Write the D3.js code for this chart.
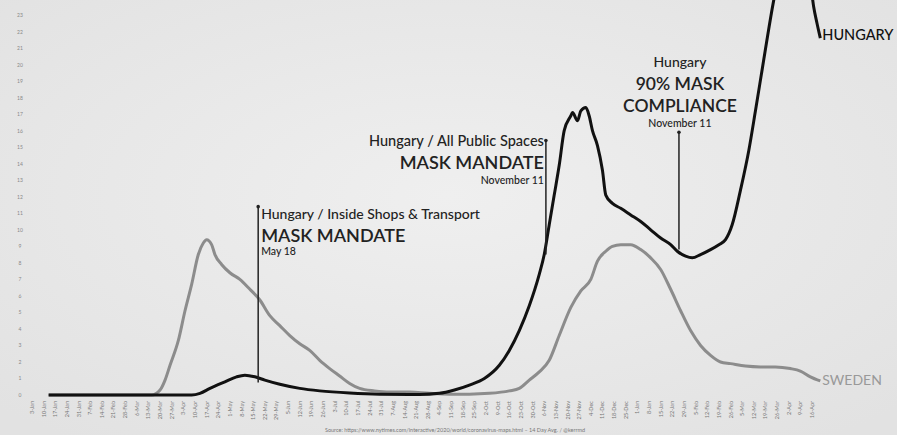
<!DOCTYPE html>
<html>
<head>
<meta charset="utf-8">
<script src="https://cdn.jsdelivr.net/npm/d3@7"></script>
<style>
  html, body { margin: 0; padding: 0; background: #e8e8e8; }
  svg { display: block; font-family: Lato, "Open Sans", sans-serif; }
</style>
</head>
<body>
<div id="chart"></div>
<script>
var width = 897;
var height = 435;

// 14 day avg
var hungary = [
  ["2020-01-13", 0], ["2020-04-08", 0], ["2020-04-13", 0.1], ["2020-04-19", 0.4], ["2020-04-28", 0.8],
  ["2020-05-05", 1.1], ["2020-05-10", 1.2], ["2020-05-16", 1.1], ["2020-05-22", 0.9],
  ["2020-05-31", 0.65], ["2020-06-12", 0.4], ["2020-06-24", 0.25], ["2020-07-12", 0.12],
  ["2020-07-30", 0.05], ["2020-08-23", 0.03], ["2020-09-04", 0.1], ["2020-09-13", 0.3],
  ["2020-09-22", 0.6], ["2020-10-01", 1.0], ["2020-10-10", 1.8], ["2020-10-16", 2.7],
  ["2020-10-22", 3.9], ["2020-10-28", 5.4], ["2020-11-03", 7.3], ["2020-11-06", 8.5],
  ["2020-11-09", 10.3], ["2020-11-12", 12.1], ["2020-11-15", 13.9], ["2020-11-18", 16.0],
  ["2020-11-22", 16.9], ["2020-11-23", 17.1], ["2020-11-26", 16.6], ["2020-11-28", 17.2],
  ["2020-12-01", 17.4], ["2020-12-03", 16.9], ["2020-12-05", 16.0], ["2020-12-08", 15.1],
  ["2020-12-11", 13.6], ["2020-12-13", 12.1], ["2020-12-17", 11.6], ["2020-12-22", 11.3],
  ["2020-12-28", 10.9], ["2021-01-03", 10.5], ["2021-01-09", 10.0], ["2021-01-15", 9.5],
  ["2021-01-21", 9.1], ["2021-01-25", 8.7], ["2021-01-30", 8.4], ["2021-02-03", 8.3],
  ["2021-02-08", 8.5], ["2021-02-14", 8.8], ["2021-02-19", 9.1], ["2021-02-23", 9.4],
  ["2021-02-27", 10.3], ["2021-03-04", 12.4], ["2021-03-09", 14.8], ["2021-03-13", 17.2],
  ["2021-03-18", 20.3], ["2021-03-24", 23.9], ["2021-03-28", 25.8], ["2021-04-03", 27.5],
  ["2021-04-10", 26.8], ["2021-04-15", 25.0], ["2021-04-17", 23.5], ["2021-04-19", 22.5],
  ["2021-04-21", 21.6]
];

var sweden = [
  ["2020-01-13", 0], ["2020-03-15", 0], ["2020-03-20", 0.3], ["2020-03-23", 0.9],
  ["2020-03-26", 1.8], ["2020-03-31", 3.3], ["2020-04-04", 5.1], ["2020-04-08", 6.7],
  ["2020-04-12", 8.5], ["2020-04-15", 9.2], ["2020-04-17", 9.4], ["2020-04-20", 9.1],
  ["2020-04-22", 8.5], ["2020-04-26", 7.9], ["2020-05-01", 7.4], ["2020-05-07", 7.0],
  ["2020-05-13", 6.4], ["2020-05-19", 5.75], ["2020-05-25", 4.8], ["2020-05-31", 4.2],
  ["2020-06-06", 3.6], ["2020-06-12", 3.1], ["2020-06-18", 2.7], ["2020-06-24", 2.1],
  ["2020-06-30", 1.6], ["2020-07-06", 1.15], ["2020-07-12", 0.7], ["2020-07-18", 0.4],
  ["2020-07-27", 0.25], ["2020-08-05", 0.18], ["2020-08-17", 0.18], ["2020-08-29", 0.1],
  ["2020-09-10", 0.05], ["2020-09-22", 0.05], ["2020-10-04", 0.1], ["2020-10-16", 0.25],
  ["2020-10-22", 0.4], ["2020-10-28", 0.9], ["2020-11-03", 1.4], ["2020-11-09", 2.1],
  ["2020-11-15", 3.6], ["2020-11-22", 5.3], ["2020-11-28", 6.3], ["2020-12-04", 7.0],
  ["2020-12-08", 8.1], ["2020-12-13", 8.7], ["2020-12-17", 9.0], ["2020-12-22", 9.1],
  ["2020-12-28", 9.1], ["2021-01-03", 8.8], ["2021-01-09", 8.3], ["2021-01-15", 7.6],
  ["2021-01-21", 6.4], ["2021-01-27", 5.1], ["2021-02-02", 3.9], ["2021-02-08", 3.0],
  ["2021-02-14", 2.4], ["2021-02-20", 2.0], ["2021-02-26", 1.9], ["2021-03-07", 1.75],
  ["2021-03-16", 1.7], ["2021-03-25", 1.7], ["2021-04-03", 1.6], ["2021-04-09", 1.45],
  ["2021-04-15", 1.1], ["2021-04-21", 0.85]
];

var yTicks = d3.range(0, 24);

// annotations: date of the marker line, top of line, tip of line, text lines [text, size, dy]
var notes = [
  { date: "2020-05-18", top: 11.4, tip: 0.75, anchor: "start", dx: 3,
    lines: [["Hungary / Inside Shops & Transport", 14, 12], ["MASK MANDATE", 18, 35], ["May 18", 10.5, 48]] },
  { date: "2020-11-07", top: 15.4, tip: 8.5, anchor: "end", dx: -2,
    lines: [["Hungary / All Public Spaces", 14.5, 5], ["MASK MANDATE", 18, 28], ["November 11", 10.5, 43]] },
  { date: "2021-01-26", top: 15.9, tip: 8.8, anchor: "middle", dx: 1,
    lines: [["Hungary", 14, -65], ["90% MASK", 17.5, -42], ["COMPLIANCE", 17.5, -20], ["November 11", 10.5, -5]] }
];

var sourceText = "Source: https://www.nytimes.com/interactive/2020/world/coronavirus-maps.html \u2013 14 Day Avg. / @kerrmd";

var parse = d3.timeParse("%Y-%m-%d");

var x = d3.scaleTime()
  .domain([new Date(2020, 0, 3), new Date(2021, 3, 16)])
  .range([32, 812]);

var y = d3.scaleLinear()
  .domain([0, 23])
  .range([395, 15]);

var svg = d3.select("#chart").append("svg")
  .attr("width", width)
  .attr("height", height);

var defs = svg.append("defs");
var grad = defs.append("radialGradient").attr("id", "bg")
  .attr("cx", "50%").attr("cy", "45%").attr("r", "70%");
grad.append("stop").attr("offset", "0%").attr("stop-color", "#efefef");
grad.append("stop").attr("offset", "100%").attr("stop-color", "#e2e2e2");

defs.append("clipPath").attr("id", "plot")
  .append("rect").attr("x", 0).attr("y", 0).attr("width", width).attr("height", 400);

svg.append("rect").attr("width", width).attr("height", height).attr("fill", "url(#bg)");

// y tick labels
svg.append("g")
  .selectAll("text")
  .data(yTicks)
  .join("text")
  .attr("x", 20)
  .attr("y", d => y(d) + 2)
  .attr("text-anchor", "middle")
  .attr("font-size", 5)
  .attr("fill", "#888")
  .text(d => d);

// x tick labels, weekly
var fmt = d3.timeFormat("%-d-%b");
svg.append("g")
  .selectAll("text")
  .data(d3.timeFriday.range(new Date(2020, 0, 3), new Date(2021, 3, 17)))
  .join("text")
  .attr("transform", d => `translate(${x(d) + 2},401) rotate(-90)`)
  .attr("text-anchor", "end")
  .attr("font-size", 5.5)
  .attr("fill", "#777")
  .text(d => fmt(d));

var line = d3.line()
  .x(d => x(parse(d[0])))
  .y(d => y(d[1]))
  .curve(d3.curveMonotoneX);

var plot = svg.append("g").attr("clip-path", "url(#plot)");

plot.append("path")
  .datum(sweden)
  .attr("fill", "none")
  .attr("stroke", "#8c8c8c")
  .attr("stroke-width", 3)
  .attr("stroke-linejoin", "round")
  .attr("d", line);

plot.append("path")
  .datum(hungary)
  .attr("fill", "none")
  .attr("stroke", "#111")
  .attr("stroke-width", 3)
  .attr("stroke-linejoin", "round")
  .attr("d", line);

// annotations
var ann = svg.append("g").selectAll("g")
  .data(notes)
  .join("g")
  .attr("transform", d => `translate(${x(parse(d.date))},0)`);

ann.append("line")
  .attr("y1", d => y(d.top))
  .attr("y2", d => y(d.tip))
  .attr("stroke", "#222")
  .attr("stroke-width", 1.5);

ann.append("circle")
  .attr("cy", d => y(d.top))
  .attr("r", 1.8)
  .attr("fill", "#222");

ann.each(function(d) {
  d3.select(this).selectAll("text")
    .data(d.lines)
    .join("text")
    .attr("x", d.dx)
    .attr("y", l => y(d.top) + l[2])
    .attr("text-anchor", d.anchor)
    .attr("font-size", l => l[1])
    .attr("font-weight", l => l[1] > 15 ? 600 : 500)
    .attr("fill", "#222")
    .text(l => l[0]);
});

// series labels
var lastH = hungary[hungary.length - 1];
var lastS = sweden[sweden.length - 1];
svg.append("text")
  .attr("x", x(parse(lastH[0])) + 2)
  .attr("y", y(lastH[1]) + 2)
  .attr("font-size", 14.5)
  .attr("font-weight", 500)
  .attr("fill", "#111")
  .text("HUNGARY");

svg.append("text")
  .attr("x", x(parse(lastS[0])) + 2)
  .attr("y", y(lastS[1]) + 4)
  .attr("font-size", 14)
  .attr("fill", "#999")
  .text("SWEDEN");

svg.append("text")
  .attr("x", 455)
  .attr("y", 432)
  .attr("text-anchor", "middle")
  .attr("font-size", 5.5)
  .attr("fill", "#777")
  .text(sourceText);
</script>
</body>
</html>
